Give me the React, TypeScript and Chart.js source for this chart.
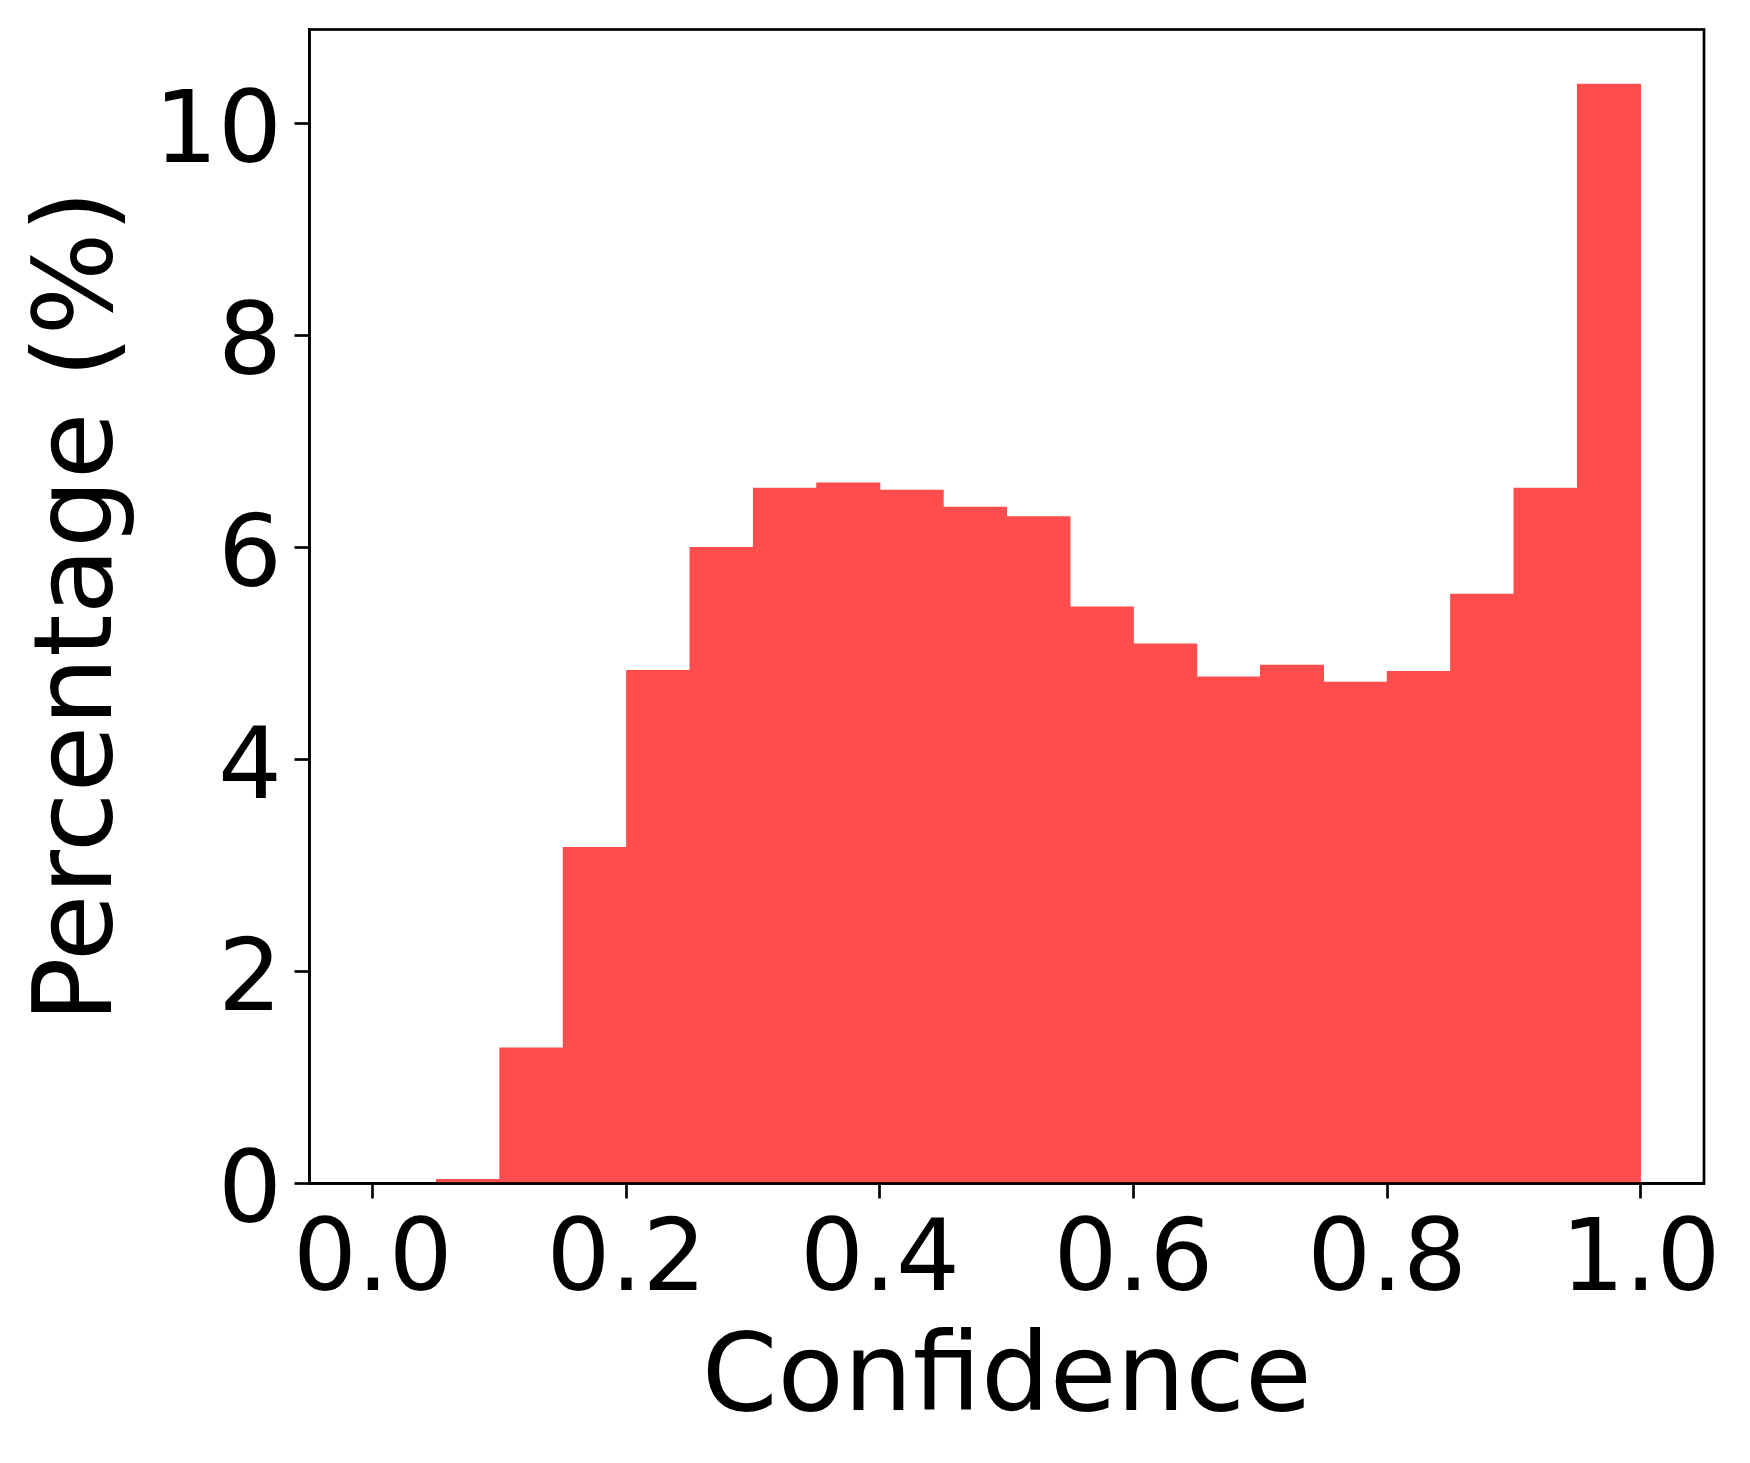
import React, { useEffect, useRef } from "react";
import { Chart, registerables } from "chart.js";

Chart.register(...registerables);

// Histogram bin edges (confidence) and bar heights (percentage)
const binEdges = [0.0, 0.05, 0.1, 0.15, 0.2, 0.25, 0.3, 0.35, 0.4, 0.45, 0.5, 0.55, 0.6, 0.65, 0.7, 0.75, 0.8, 0.85, 0.9, 0.95, 1.0];
const percentages = [0.0, 0.04, 1.28, 3.17, 4.84, 6.0, 6.56, 6.61, 6.54, 6.38, 6.29, 5.44, 5.09, 4.78, 4.89, 4.73, 4.83, 5.56, 6.56, 10.37];
const xTickValues = [0.0, 0.2, 0.4, 0.6, 0.8, 1.0];
const yTickValues = [0, 2, 4, 6, 8, 10];
const xLimits = [-0.05, 1.05];
const yLimits = [0, 10.885];
const xLabel = "Confidence";
const yLabel = "Percentage (%)";

const W = 1750;
const H = 1463;
const FONT = "'DejaVu Sans', sans-serif";
const LINE = 2.7;
const TICK_SIZE = 100.5;
const TITLE_SIZE = 108.5;

const boxPlugin = {
  id: "spineBox",
  afterDatasetsDraw(chart: any) {
    const { ctx, chartArea } = chart;
    ctx.save();
    ctx.strokeStyle = "#000";
    ctx.lineWidth = LINE;
    ctx.strokeRect(chartArea.left, chartArea.top, chartArea.right - chartArea.left, chartArea.bottom - chartArea.top);
    ctx.restore();
  },
};

export default function App() {
  const ref = useRef<HTMLCanvasElement | null>(null);

  useEffect(() => {
    if (!ref.current) return;
    const data = percentages.map((v, i) => ({ x: (binEdges[i] + binEdges[i + 1]) / 2, y: v }));
    const chart = new Chart(ref.current, {
      type: "bar",
      data: {
        datasets: [
          {
            data: data as any,
            backgroundColor: "#FF4D4D",
            borderWidth: 0,
            barPercentage: 1,
            categoryPercentage: 1,
          },
        ],
      },
      plugins: [boxPlugin],
      options: {
        animation: false,
        responsive: false,
        devicePixelRatio: 1,
        layout: { autoPadding: false, padding: { left: 0, top: 29.5, right: 46, bottom: 0 } },
        plugins: { legend: { display: false }, tooltip: { enabled: false } },
        scales: {
          x: {
            type: "linear",
            min: xLimits[0],
            max: xLimits[1],
            offset: false,
            grid: {
              display: true,
              offset: false,
              drawOnChartArea: false,
              drawTicks: true,
              tickLength: 15,
              tickWidth: LINE,
              tickColor: "#000",
            },
            border: { display: true, color: "#000", width: LINE },
            ticks: {
              color: "#000",
              font: { family: FONT, size: TICK_SIZE, lineHeight: 1 },
              padding: 15,
              maxRotation: 0,
              autoSkip: false,
              callback: (v: any) => Number(v).toFixed(1),
            },
            title: {
              display: true,
              text: xLabel,
              color: "#000",
              font: { family: FONT, size: TITLE_SIZE, lineHeight: 1 },
              padding: { top: 0, bottom: 27 },
            },
            afterBuildTicks: (s: any) => {
              s.ticks = xTickValues.map((v) => ({ value: v }));
            },
            afterFit: (s: any) => {
              s.height = H - 1183.5;
              s.paddingLeft = 0;
              s.paddingRight = 0;
            },
          } as any,
          y: {
            type: "linear",
            min: yLimits[0],
            max: yLimits[1],
            grid: {
              display: true,
              drawOnChartArea: false,
              drawTicks: true,
              tickLength: 15,
              tickWidth: LINE,
              tickColor: "#000",
            },
            border: { display: true, color: "#000", width: LINE },
            ticks: {
              color: "#000",
              font: { family: FONT, size: TICK_SIZE, lineHeight: 1 },
              padding: 12.5,
              labelOffset: 12.5,
              callback: (v: any) => String(v),
            },
            title: {
              display: true,
              text: yLabel,
              color: "#000",
              font: { family: FONT, size: TITLE_SIZE, lineHeight: 1 },
              padding: { top: 29, bottom: 0 },
            },
            afterBuildTicks: (s: any) => {
              s.ticks = yTickValues.map((v) => ({ value: v }));
            },
            afterFit: (s: any) => {
              s.width = 309.5;
              s.paddingTop = 0;
              s.paddingBottom = 0;
            },
          } as any,
        },
      },
    });
    return () => chart.destroy();
  }, []);

  return (
    <div style={{ position: "absolute", left: 0, top: 0, width: W, height: H, background: "#fff" }}>
      <canvas ref={ref} width={W} height={H} style={{ width: W, height: H, display: "block" }} />
    </div>
  );
}
